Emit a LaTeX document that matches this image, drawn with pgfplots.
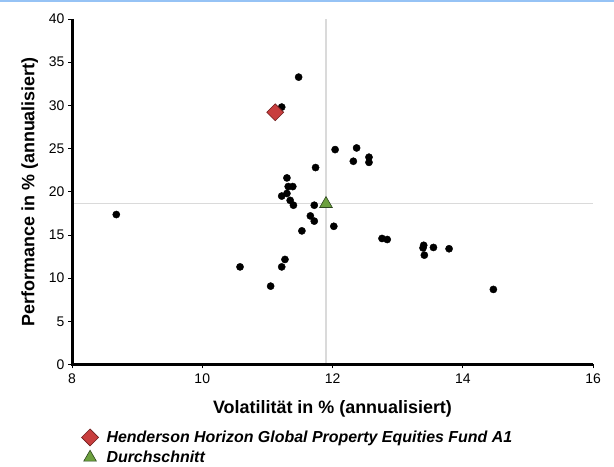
\documentclass[border=0pt]{standalone}
\usepackage{fontspec}
\setmainfont{Liberation Sans}
\usepackage{pgfplots}
\pgfplotsset{compat=1.18}

\definecolor{topline}{RGB}{150,195,245}
\definecolor{refline}{RGB}{218,218,218}
\definecolor{fundred}{RGB}{200,62,62}
\definecolor{fundedge}{RGB}{110,30,30}
\definecolor{avggreen}{RGB}{108,160,62}
\definecolor{avgedge}{RGB}{45,70,30}

\begin{document}
\begin{tikzpicture}[x=1bp,y=1bp]
\path[use as bounding box] (0,0) rectangle (614,467);
\draw[topline, line width=2.2bp] (0,466) -- (614,466);
\begin{axis}[
  at={(72bp,102.5bp)}, anchor=south west,
  scale only axis, width=521bp, height=345.5bp,
  xmin=8, xmax=16, ymin=0, ymax=40,
  xtick={8,10,...,16}, ytick={0,5,...,40},
  axis x line=bottom, axis y line=left,
  axis line style={-},
  tick align=outside, major tick length=4bp,
  tick style={black, line width=0.8bp},
  /pgf/number format/assume math mode=true,
  ticklabel style={font=\fontsize{14}{16}\selectfont},
  xticklabel style={yshift=-2bp},
  xlabel={\bfseries Volatilität in \% (annualisiert)},
  ylabel={\bfseries Performance in \% (annualisiert)},
  label style={font=\fontsize{18}{20}\selectfont},
  xlabel style={at={(axis description cs:0.5,-0.128)}, anchor=center},
  ylabel style={at={(axis description cs:-0.081,0.5)}, anchor=center},
  clip=false,
  legend style={at={(axis description cs:0.018,-0.186)}, anchor=north west,
    draw=none, fill=none, font=\fontsize{16}{18}\selectfont\bfseries\itshape,
    row sep=3bp, inner sep=0pt,
    /tikz/every odd column/.append style={column sep=6bp}},
  legend cell align=left,
]
% Referenzlinien (Durchschnitt)
\addplot[refline, line width=1.2bp, forget plot] coordinates {(11.9,0) (11.9,40)};
\addplot[refline, line width=1.2bp, forget plot] coordinates {(8,18.6) (16,18.6)};
% Vergleichsfonds
\addplot[only marks, mark=*, mark size=3.6bp, black, forget plot] coordinates {
(8.68,17.36)
(10.58,11.3)
(11.05,9.07)
(11.22,11.3)
(11.27,12.16)
(11.48,33.27)
(11.22,29.8)
(12.04,24.88)
(12.37,25.07)
(12.32,23.53)
(12.56,24.0)
(12.56,23.4)
(11.74,22.8)
(11.30,21.6)
(11.32,20.6)
(11.39,20.6)
(11.22,19.5)
(11.30,19.8)
(11.35,19.0)
(11.40,18.44)
(11.72,18.44)
(11.66,17.2)
(11.72,16.6)
(11.53,15.47)
(12.02,16.0)
(12.76,14.59)
(12.84,14.47)
(13.40,13.8)
(13.39,13.5)
(13.41,12.66)
(13.55,13.55)
(13.79,13.4)
(14.47,8.69)
};
\addplot[only marks, mark=square*, mark size=6bp, mark options={rotate=45, fill=fundred, draw=fundedge, line width=0.6bp}] coordinates {(11.12,29.2)};
\addlegendentry{Henderson Horizon Global Property Equities Fund A1}
\addplot[only marks, mark=triangle*, mark size=7.3bp, mark options={fill=avggreen, draw=avgedge, line width=0.6bp}] coordinates {(11.9,18.6)};
\addlegendentry{Durchschnitt}
% dicke Achsenlinien
\draw[black, line width=3bp] (rel axis cs:0,1) -- (rel axis cs:0,0) -- (rel axis cs:1,0);
\end{axis}
\end{tikzpicture}
\end{document}
